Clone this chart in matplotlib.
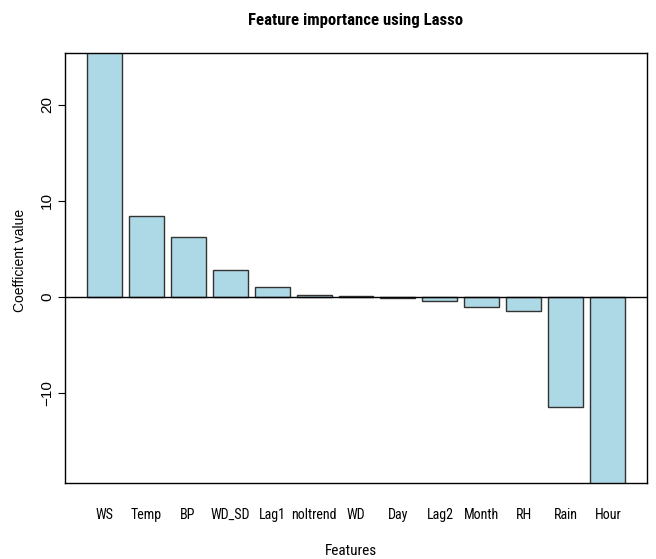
import matplotlib
matplotlib.use("Agg")
import matplotlib.pyplot as plt
from matplotlib import font_manager
from matplotlib.textpath import TextPath
import numpy as np

features = ["WS", "Temp", "BP", "WD_SD", "Lag1", "noltrend", "WD", "Day",
            "Lag2", "Month", "RH", "Rain", "Hour"]
coefs = [30.0, 8.44, 6.2, 2.77, 1.04, 0.18, 0.05, -0.08,
         -0.45, -1.1, -1.45, -11.45, -22.0]
yticks = [-10, 0, 10, 20]
title = "Feature importance using Lasso"

plt.rcParams['font.family'] = ['Liberation Sans', 'DejaVu Sans']

PX = 72.0 / 100.0  # points per pixel at dpi 100
ok_names = ('dejavu sans', 'liberation sans', 'noto sans', 'roboto', 'open sans',
            'lato', 'inter')
bad = ('mono', 'cjk', 'serif', 'italic', 'oblique', 'display', 'slab')


def candidates(bold):
    out = []
    for f in font_manager.fontManager.ttflist:
        nm = f.name.lower()
        fn = f.fname.lower()
        if not nm.startswith(ok_names) or any(b in nm or b in fn for b in bad):
            continue
        if nm.startswith('noto sans') and nm not in ('noto sans', 'noto sans condensed',
                                                      'noto sans semicondensed'):
            continue
        w = f.weight if isinstance(f.weight, int) else {'normal': 400, 'regular': 400,
                                                         'bold': 700}.get(f.weight, 0)
        if bold and w == 700:
            out.append(f.fname)
        if not bold and w == 400:
            out.append(f.fname)
    return out


def pick(text, width_px, cap_px, bold, cap_weight=0.5, scale=1.0):
    best = None
    for fn in candidates(bold):
        try:
            fp = font_manager.FontProperties(fname=fn)
            w = TextPath((0, 0), text, size=10, prop=fp).get_extents().width
            c = TextPath((0, 0), "L", size=10, prop=fp).get_extents().height
        except Exception:
            continue
        if w <= 0 or c <= 0:
            continue
        size_w = 10 * width_px * PX / w
        size_c = 10 * cap_px * PX / c
        err = abs(np.log(size_w / size_c))
        size = size_w ** (1 - cap_weight) * size_c ** cap_weight
        if best is None or err < best[0]:
            best = (err, fn, size)
    if best is None:
        return font_manager.FontProperties(family=['Liberation Sans'],
                                           weight='bold' if bold else 'normal',
                                           size=9.5 * scale)
    return font_manager.FontProperties(fname=best[1], size=min(best[2] * scale, 13))


lab_fp = pick("noltrend", 37, 11.0, False, scale=1.04)
feat_fp = pick("Features", 37, 9.5, False, scale=1.25)
title_fp = pick(title, 196, 10.7, True, cap_weight=0.35, scale=1.1)

fig = plt.figure(figsize=(6.56, 5.59), dpi=100)
ax = fig.add_axes([65/656, 1-483/559, (647-65)/656, (483-53)/559])

n = len(features)
x = 0.7 + 1.2*np.arange(n)
ax.bar(x, coefs, width=1.0, color='#ADD8E6', edgecolor='#333333', linewidth=1.0, zorder=2)
ax.axhline(0, color='black', linewidth=1.0, zorder=3)

ax.set_xlim(0.2 - 0.616, 15.6 + 0.616)
ax.set_ylim(-19.4, 25.4)

ax.set_yticks(yticks)
ax.set_yticklabels([str(v) if v >= 0 else "\u2212" + str(-v) for v in yticks],
                   rotation=90, va='center', fontsize=11)
ax.tick_params(axis='y', length=5, width=0.8, pad=3)
ax.set_xticks(x)
ax.set_xticklabels(features, fontproperties=lab_fp, va='baseline')
ax.tick_params(axis='x', length=0, pad=0)
# place tick-label baselines at y=519 px
for t in ax.get_xticklabels():
    t.set_y(-(519 - 483) / (483 - 53))
    t.set_transform(ax.get_xaxis_transform())

for s in ax.spines.values():
    s.set_linewidth(1.0)

fig.text(356/656, 1 - 25/559, title, fontproperties=title_fp, ha='center', va='baseline')
fig.text(351/656, 1 - 555/559, "Features", fontproperties=feat_fp, ha='center', va='baseline')
fig.text(20/656, 1 - 260/559, "Coefficient value", fontsize=10, rotation=90,
         ha='center', va='center')

fig.savefig("out.png", dpi=100)
